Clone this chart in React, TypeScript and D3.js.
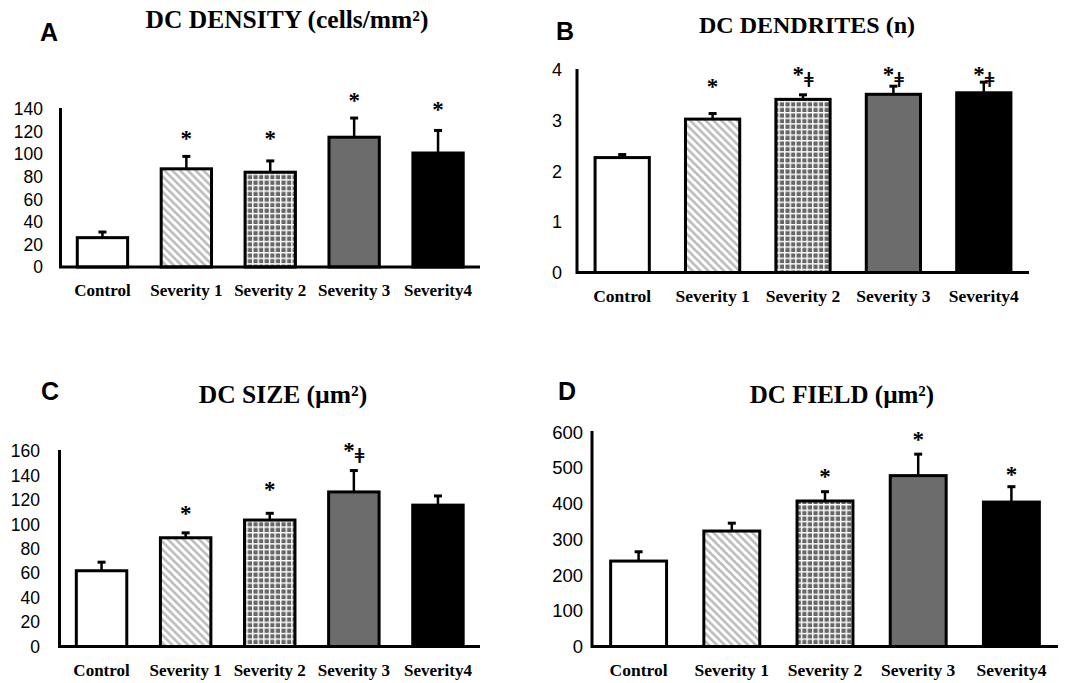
import * as d3 from "d3";

const categories = ["Control", "Severity 1", "Severity 2", "Severity 3", "Severity4"];

// A - density
const densityMeans = [26, 87, 84, 115, 101];
const densityErrors = [5, 11, 10, 17, 20];
const densityMarks = ["", "*", "*", "*", "*"];
const densityMarkAt = [0, 117, 117, 151, 143];
const densityTicks = [0, 20, 40, 60, 80, 100, 120, 140];

// B - dendrites
const dendriteMeans = [2.27, 3.03, 3.42, 3.52, 3.55];
const dendriteErrors = [0.06, 0.11, 0.09, 0.16, 0.21];
const dendriteMarks = ["", "*", "*ǂ", "*ǂ", "*ǂ"];
const dendriteMarkAt = [0, 3.74, 3.99, 3.99, 3.99];
const dendriteTicks = [0, 1, 2, 3, 4];

// C - size
const sizeMeans = [62, 89, 103.5, 126.5, 115.7];
const sizeErrors = [7, 4, 5.5, 17.5, 7.5];
const sizeMarks = ["", "*", "*", "*ǂ", ""];
const sizeMarkAt = [0, 112, 131, 163, 0];
const sizeTicks = [0, 20, 40, 60, 80, 100, 120, 140, 160];

// D - field
const fieldMeans = [239, 323, 407, 478, 404];
const fieldErrors = [26, 22, 26, 60, 43];
const fieldMarks = ["", "", "*", "*", "*"];
const fieldMarkAt = [0, 0, 486, 588, 491];
const fieldTicks = [0, 100, 200, 300, 400, 500, 600];

const fills = ["#ffffff", "url(#hatch)", "url(#grid)", "#6c6c6c", "#000000"];

const SERIF = "'Liberation Serif', 'Times New Roman', serif";
const SANS = "'Liberation Sans', Arial, sans-serif";

const panels = [
  {
    letter: "A", title: "DC DENSITY (cells/mm²)", means: densityMeans, errors: densityErrors,
    marks: densityMarks, markAt: densityMarkAt, ticks: densityTicks,
    left: 60.5, right: 480, base: 267, top: 109,
    letterX: 40, letterY: 41, titleX: 287, titleY: 28, titleSize: 25.5, tickRight: 43, tickSize: 17.5, catSize: 17,
  },
  {
    letter: "B", title: "DC DENDRITES (n)", means: dendriteMeans, errors: dendriteErrors,
    marks: dendriteMarks, markAt: dendriteMarkAt, ticks: dendriteTicks,
    left: 577, right: 1029, base: 272.5, top: 70,
    letterX: 556, letterY: 40, titleX: 807, titleY: 33, titleSize: 24, tickRight: 562, tickSize: 18, catSize: 17.5,
  },
  {
    letter: "C", title: "DC SIZE (µm²)", means: sizeMeans, errors: sizeErrors,
    marks: sizeMarks, markAt: sizeMarkAt, ticks: sizeTicks,
    left: 59.5, right: 480, base: 646.5, top: 451,
    letterX: 41, letterY: 400, titleX: 283, titleY: 403, titleSize: 25.5, tickRight: 40, tickSize: 17.5, catSize: 17,
  },
  {
    letter: "D", title: "DC FIELD (µm²)", means: fieldMeans, errors: fieldErrors,
    marks: fieldMarks, markAt: fieldMarkAt, ticks: fieldTicks,
    left: 592, right: 1058, base: 646.5, top: 432,
    letterX: 558, letterY: 400, titleX: 842, titleY: 403, titleSize: 25, tickRight: 583, tickSize: 18.5, catSize: 17.5,
  },
];

function Panel({ p }: { p: (typeof panels)[number] }) {
  const x = d3.scaleBand<string>().domain(categories).range([p.left, p.right]).paddingInner(0.4).paddingOuter(0.2);
  const maxTick = p.ticks[p.ticks.length - 1];
  const y = d3.scaleLinear().domain([0, maxTick]).range([p.base, p.top]);
  const bw = x.bandwidth();
  const starSize = 23;

  return (
    <g>
      <text x={p.letterX} y={p.letterY} fontFamily={SANS} fontWeight="bold" fontSize={25}>{p.letter}</text>
      <text x={p.titleX} y={p.titleY} textAnchor="middle" fontFamily={SERIF} fontWeight="bold" fontSize={p.titleSize}>{p.title}</text>

      {p.ticks.map((t) => (
        <text key={t} x={p.tickRight} y={y(t)} dy="0.36em" textAnchor="end" fontFamily={SANS} fontSize={p.tickSize}>{t}</text>
      ))}

      {categories.map((c, i) => {
        const x0 = x(c)!;
        const cx = x0 + bw / 2;
        const yTop = y(p.means[i]);
        const yErr = y(p.means[i] + p.errors[i]);
        return (
          <g key={c}>
            <line x1={cx} x2={cx} y1={yTop} y2={yErr} stroke="#000" strokeWidth={2.5} />
            <line x1={cx - 4} x2={cx + 4} y1={yErr} y2={yErr} stroke="#000" strokeWidth={3} />
            <rect x={x0} y={yTop} width={bw} height={p.base - yTop} fill={fills[i]} stroke="#000" strokeWidth={3} />
            {p.marks[i] && (
              <text x={cx} y={y(p.markAt[i]) + starSize * 0.48} textAnchor="middle" fontFamily={SERIF} fontWeight="bold" fontSize={starSize}>
                <tspan>*</tspan>
                {p.marks[i].length > 1 && (
                  <tspan fontFamily="'DejaVu Serif', serif" fontWeight="bold" fontSize={21} dy={5}>ǂ</tspan>
                )}
              </text>
            )}
            <text x={cx} y={p.base + 29} textAnchor="middle" fontFamily={SERIF} fontWeight="bold" fontSize={p.catSize}>{c}</text>
          </g>
        );
      })}

      <path d={`M${p.left},${p.top - 1}V${p.base}H${p.right}`} fill="none" stroke="#000" strokeWidth={3} />
    </g>
  );
}

export default function App() {
  return (
    <svg width={1074} height={683} style={{ position: "absolute", left: 0, top: 0, background: "#fff" }}>
      <defs>
        <pattern id="hatch" patternUnits="userSpaceOnUse" width={5.5} height={5.5} patternTransform="rotate(-45)">
          <rect width={5.5} height={5.5} fill="#fff" />
          <line x1={1.3} x2={1.3} y1={0} y2={5.5} stroke="#b8b8b8" strokeWidth={2.4} />
        </pattern>
        <pattern id="grid" patternUnits="userSpaceOnUse" width={5.6} height={5.6}>
          <rect width={5.6} height={5.6} fill="#666" />
          <rect width={5.6} height={1.4} fill="#fff" />
          <rect width={1.4} height={5.6} fill="#fff" />
        </pattern>
      </defs>
      <rect width={1074} height={683} fill="#fff" />
      {panels.map((p) => (
        <Panel key={p.letter} p={p} />
      ))}
    </svg>
  );
}
